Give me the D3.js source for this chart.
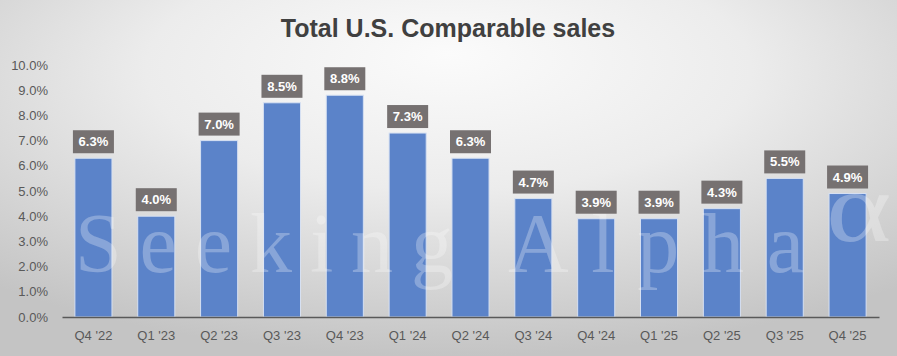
<!DOCTYPE html>
<html><head><meta charset="utf-8">
<script src="https://cdn.jsdelivr.net/npm/d3@7"></script>
<style>html,body{margin:0;padding:0;overflow:hidden;background:#fff}</style>
</head><body>
<svg id="chart" width="897" height="356"></svg>
<script>
const categories = ["Q4 '22","Q1 '23","Q2 '23","Q3 '23","Q4 '23","Q1 '24","Q2 '24","Q3 '24","Q4 '24","Q1 '25","Q2 '25","Q3 '25","Q4 '25"];
const values = [6.3, 4.0, 7.0, 8.5, 8.8, 7.3, 6.3, 4.7, 3.9, 3.9, 4.3, 5.5, 4.9];
const yTicks = [0,1,2,3,4,5,6,7,8,9,10];
const title = "Total U.S. Comparable sales";
const watermarkWords = ["Seeking", "Alpha"];

const W = 897, H = 356;
const svg = d3.select("#chart");
const defs = svg.append("defs");
const g = defs.append("radialGradient").attr("id","bg")
  .attr("cx","50%").attr("cy","25%").attr("r","75%")
  .attr("fx","50%").attr("fy","15%");
g.append("stop").attr("offset","0%").attr("stop-color","#fbfbfb");
g.append("stop").attr("offset","45%").attr("stop-color","#ececec");
g.append("stop").attr("offset","100%").attr("stop-color","#c4c4c4");
svg.append("rect").attr("width",W).attr("height",H).attr("fill","url(#bg)");

const x = d3.scaleBand().domain(categories).range([62, 879]).paddingInner(0.41).paddingOuter(0.205);
const y = d3.scaleLinear().domain([0, 10]).range([317, 65]);

// title
svg.append("text").attr("x", 448).attr("y", 37).attr("text-anchor","middle")
  .attr("font-family","'Liberation Sans', Arial, sans-serif").attr("font-weight","bold")
  .attr("font-size", 25).attr("fill","#404040").text(title);

// y axis labels
const yAxis = d3.axisLeft(y).tickValues(yTicks).tickSize(0).tickPadding(0)
  .tickFormat(d => d3.format(".1f")(d) + "%");
const ya = svg.append("g").attr("transform","translate(48,0)").call(yAxis);
ya.select(".domain").remove();
ya.selectAll("text").attr("font-family","'Liberation Sans', Arial, sans-serif")
  .attr("font-size", 13).attr("fill","#595959");

// bars
svg.append("g").selectAll("rect").data(values).join("rect")
  .attr("x", (d,i) => x(categories[i]))
  .attr("y", d => y(d))
  .attr("width", x.bandwidth())
  .attr("height", d => y(0) - y(d))
  .attr("fill", "#5b83c9")
  .attr("stroke", "#d6e0f2").attr("stroke-width", 1);

// watermark
const wm = svg.append("g").attr("fill","#ffffff").attr("fill-opacity", 0.28)
  .attr("font-family","'Liberation Serif', 'Times New Roman', serif");
wm.append("text").attr("x", 75).attr("y", 272).attr("font-size", 84)
  .attr("textLength", 378).attr("lengthAdjust","spacing").text(watermarkWords[0]);
wm.append("text").attr("x", 508).attr("y", 272).attr("font-size", 84)
  .attr("textLength", 296).attr("lengthAdjust","spacing").text(watermarkWords[1]);
wm.append("text").attr("transform","translate(826,241) scale(1.25,1)")
  .attr("font-size", 100).text("α");

// x axis
const xAxis = d3.axisBottom(x).tickSize(0).tickPadding(14);
const xa = svg.append("g").attr("transform", `translate(0,${y(0)})`).call(xAxis);
xa.select(".domain").attr("stroke","#595959").attr("stroke-width",1.5);
xa.selectAll("text").attr("font-family","'Liberation Sans', Arial, sans-serif")
  .attr("font-size", 13).attr("fill","#595959");

// data labels
const lab = svg.append("g").selectAll("g").data(values).join("g")
  .attr("transform", (d,i) => `translate(${x(categories[i]) + x.bandwidth()/2},${y(d) - 5})`);
lab.append("rect").attr("x", -20.5).attr("y", -23).attr("width", 41).attr("height", 23)
  .attr("fill", "#767171");
lab.append("text").attr("x", 0).attr("y", -7).attr("text-anchor","middle")
  .attr("font-family","'Liberation Sans', Arial, sans-serif").attr("font-weight","bold")
  .attr("font-size", 13).attr("fill","#ffffff")
  .text(d => d3.format(".1f")(d) + "%");
</script>
</body></html>
